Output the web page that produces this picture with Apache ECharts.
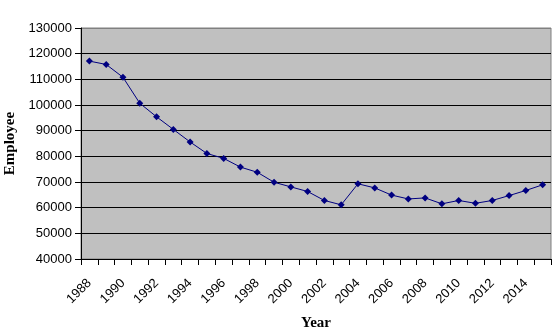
<!DOCTYPE html>
<html>
<head>
<meta charset="utf-8">
<script src="https://cdn.jsdelivr.net/npm/echarts@6/dist/echarts.min.js"></script>
<style>
  html, body { margin: 0; padding: 0; background: #fff; }
  #chart { width: 555px; height: 336px; }
</style>
</head>
<body>
<div id="chart"></div>
<script>
// years on the category axis
const years = [
  '1988', '1989', '1990', '1991', '1992', '1993', '1994', '1995', '1996', '1997',
  '1998', '1999', '2000', '2001', '2002', '2003', '2004', '2005', '2006', '2007',
  '2008', '2009', '2010', '2011', '2012', '2013', '2014', '2015'
]
// employees
const employees = [
  117100, 115800, 110800, 100700, 95400, 90500, 85600, 81100, 79200, 75800,
  73800, 69900, 68100, 66300, 62800, 61100, 69300, 67700, 64900, 63400,
  63800, 61500, 62800, 61700, 62800, 64700, 66700, 68900
]
const yMin = 40000
const yMax = 130000
const yStep = 10000

const chart = echarts.init(document.getElementById('chart'))

// black grid lines, the top one stays grey like the border
let splitColors = []
for (let v = yMin; v <= yMax; v += yStep) {
  splitColors.push(v === yMax ? '#808080' : '#000000')
}

const option = {
  animation: false,
  grid: {
    left: 81,
    right: 4,
    top: 28,
    bottom: 77,
    outerBoundsMode: 'none',
    containLabel: false,
    show: true,
    backgroundColor: '#c0c0c0',
    borderColor: '#808080',
    borderWidth: 1
  },
  xAxis: {
    type: 'category',
    data: years,
    boundaryGap: true,
    name: 'Year',
    nameLocation: 'middle',
    nameGap: 57,
    nameTextStyle: {
      fontFamily: 'Liberation Serif',
      fontWeight: 'bold',
      fontSize: 15,
      color: '#000'
    },
    axisLine: { lineStyle: { color: '#000', width: 1 } },
    axisTick: { show: true, interval: 0, length: 6, lineStyle: { color: '#000' } },
    axisLabel: {
      interval: 1,
      rotate: 45,
      margin: 22,
      fontFamily: 'Liberation Sans',
      fontSize: 13,
      color: '#000'
    },
    splitLine: { show: false }
  },
  yAxis: {
    type: 'value',
    min: yMin,
    max: yMax,
    interval: yStep,
    name: 'Employee',
    nameLocation: 'middle',
    nameGap: 61,
    nameTextStyle: {
      fontFamily: 'Liberation Serif',
      fontWeight: 'bold',
      fontSize: 15,
      color: '#000'
    },
    axisLine: { show: true, lineStyle: { color: '#000', width: 1 } },
    axisTick: { show: true, length: 6, lineStyle: { color: '#000' } },
    axisLabel: {
      margin: 9,
      fontFamily: 'Liberation Sans',
      fontSize: 13,
      color: '#000',
      formatter: v => String(v)
    },
    splitLine: { show: true, lineStyle: { color: splitColors, width: 1 } }
  },
  series: [{
    type: 'line',
    data: employees,
    symbol: 'diamond',
    symbolSize: 7,
    lineStyle: { color: '#000080', width: 1 },
    itemStyle: { color: '#000080' }
  }]
}
option && chart.setOption(option)
</script>
</body>
</html>
